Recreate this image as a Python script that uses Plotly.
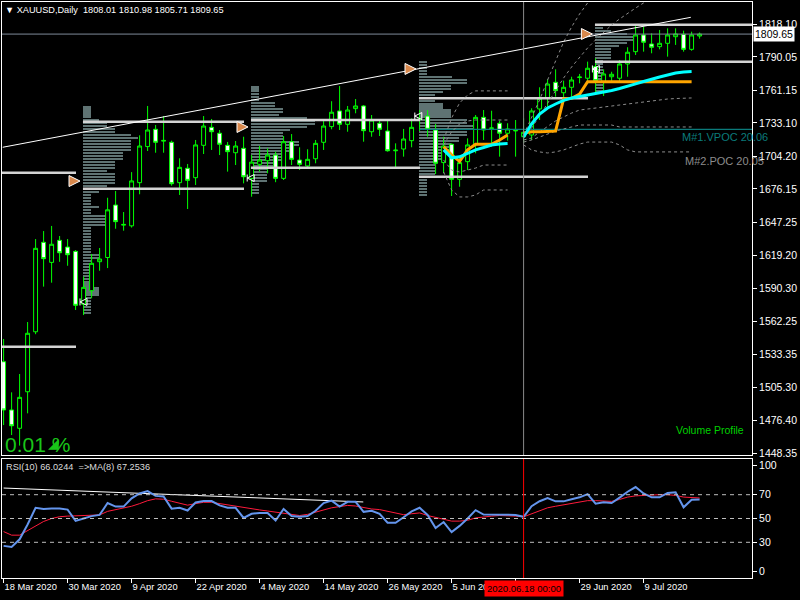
import plotly.graph_objects as go
import pandas as pd

# ---------------- data ----------------
dates = [d for d in pd.bdate_range("2020-03-18", "2020-07-20") if d.strftime("%Y-%m-%d") != "2020-04-10"]
bar_idx = list(range(len(dates)))

opens = [1527.3, 1485.7, 1469.9, 1501.4, 1553.1, 1630.2, 1612.9, 1631.9, 1626.1, 1622.4,
         1576.8, 1588.5, 1613.5, 1617.1, 1662.3, 1645.0, 1644.4, 1681.6, 1712.7, 1727.6,
         1717.4, 1716.4, 1681.6, 1694.0, 1685.9, 1713.8, 1729.3, 1724.2, 1713.8, 1707.4,
         1711.2, 1685.3, 1697.4, 1700.5, 1705.4, 1685.3, 1716.9, 1701.1, 1696.0, 1702.2,
         1716.4, 1729.9, 1743.4, 1731.9, 1745.4, 1747.7, 1725.5, 1732.8, 1726.1, 1709.1,
         1710.6, 1717.8, 1736.0, 1739.0, 1727.0, 1698.9, 1714.7, 1684.5, 1699.7, 1714.1,
         1737.9, 1728.3, 1732.8, 1724.2, 1726.2, 1721.2, 1722.7, 1745.1, 1754.3, 1768.1,
         1759.1, 1763.8, 1772.2, 1771.6, 1781.6, 1768.6, 1772.9, 1771.6, 1783.9, 1794.5,
         1808.9, 1801.1, 1798.8, 1801.7, 1807.4, 1809.4, 1796.5, 1808.01]
highs = [1546.9, 1500.9, 1516.7, 1561.5, 1633.0, 1639.9, 1644.3, 1635.6, 1633.0, 1623.5,
         1600.6, 1620.1, 1625.3, 1668.6, 1674.4, 1656.3, 1690.7, 1722.4, 1747.7, 1731.3,
         1739.0, 1717.8, 1702.6, 1697.7, 1718.4, 1739.0, 1736.5, 1727.0, 1716.7, 1717.5,
         1721.2, 1705.5, 1713.2, 1711.2, 1708.3, 1721.8, 1723.5, 1712.1, 1710.4, 1718.4,
         1736.2, 1751.8, 1764.9, 1747.7, 1753.7, 1748.5, 1739.9, 1735.6, 1735.6, 1715.5,
         1727.9, 1737.0, 1744.2, 1744.2, 1732.2, 1721.2, 1715.5, 1704.0, 1719.8, 1739.9,
         1744.2, 1743.6, 1735.0, 1732.8, 1735.6, 1737.0, 1745.7, 1763.8, 1770.7, 1779.3,
         1769.5, 1772.9, 1775.3, 1785.9, 1788.8, 1779.3, 1777.2, 1787.3, 1798.3, 1817.5,
         1816.0, 1810.3, 1813.2, 1814.6, 1814.6, 1812.6, 1811.7, 1810.98]
lows = [1472.7, 1464.1, 1455.0, 1482.8, 1551.0, 1592.0, 1595.4, 1613.4, 1610.0, 1571.9,
        1567.5, 1581.9, 1605.7, 1608.0, 1641.9, 1640.2, 1642.9, 1671.6, 1708.9, 1707.4,
        1707.4, 1679.0, 1671.0, 1658.9, 1679.6, 1706.3, 1709.8, 1705.4, 1691.1, 1696.8,
        1681.0, 1669.5, 1691.1, 1689.7, 1682.0, 1683.9, 1696.8, 1692.5, 1694.0, 1698.3,
        1709.8, 1727.6, 1727.0, 1725.5, 1741.4, 1716.9, 1721.2, 1721.8, 1708.3, 1694.0,
        1704.0, 1712.1, 1726.0, 1721.2, 1689.0, 1689.7, 1670.1, 1678.1, 1692.5, 1706.9,
        1718.4, 1712.6, 1704.0, 1717.8, 1704.0, 1715.8, 1718.4, 1735.6, 1747.1, 1755.7,
        1752.8, 1755.7, 1767.2, 1766.6, 1758.6, 1756.3, 1768.6, 1768.6, 1772.9, 1791.6,
        1794.5, 1793.1, 1796.5, 1790.2, 1800.3, 1794.5, 1795.3, 1805.71]
closes = [1485.7, 1472.1, 1496.6, 1551.8, 1625.0, 1616.1, 1628.5, 1621.2, 1619.5, 1575.9,
          1591.4, 1612.1, 1615.8, 1658.2, 1648.0, 1645.6, 1683.1, 1713.2, 1727.0, 1716.4,
          1718.0, 1680.7, 1694.8, 1683.6, 1714.1, 1730.4, 1725.5, 1714.7, 1708.3, 1713.2,
          1686.7, 1699.3, 1701.1, 1705.4, 1685.3, 1716.9, 1701.7, 1697.4, 1701.7, 1715.5,
          1730.4, 1742.3, 1731.9, 1744.2, 1747.7, 1726.4, 1735.6, 1727.6, 1709.1, 1709.6,
          1719.2, 1729.3, 1736.6, 1727.6, 1698.3, 1713.2, 1684.5, 1698.9, 1714.1, 1737.9,
          1727.0, 1728.7, 1724.2, 1727.9, 1726.6, 1725.0, 1743.4, 1754.3, 1766.6, 1760.9,
          1763.8, 1770.1, 1772.6, 1780.2, 1769.5, 1775.3, 1775.0, 1783.9, 1794.0, 1808.9,
          1802.6, 1798.3, 1801.7, 1808.9, 1809.7, 1796.5, 1808.9, 1809.65]

rsi = [27, 26, 32.5, 45, 59, 58, 58.5, 58.5, 57.5, 48,
       50, 52, 53, 63, 60, 60, 67, 71, 73, 69,
       68.5, 58.3, 59, 56.7, 63.5, 64.7, 64.7, 61, 59, 59,
       50.5, 54, 54.7, 54.7, 48.3, 58, 52, 51.5, 52, 56.5,
       63, 65, 60, 64, 64, 55.6, 56.5, 54, 46.5, 46.4,
       51, 56, 59, 53, 42, 47, 38.6, 43.8, 50, 57,
       53.3, 53.3, 53, 53.5, 53, 51.4, 60.3, 64.5, 67.2, 64.4,
       64.4, 66.2, 67.8, 70.5, 62.5, 63.6, 63, 67.5, 72.5, 76.4,
       71, 67.8, 67.8, 71.5, 72, 59.4, 65.8, 66.02]
rsi_ma = [39, 36, 36, 40, 43.5, 47.5, 50, 51.5, 52, 52.3,
          52.5, 52.5, 53, 56, 57.5, 58.5, 60.3, 62.5, 65, 66.5,
          66.2, 64.5, 63, 61.2, 62.5, 63.6, 63.6, 62.5, 61, 60.3,
          59.2, 58, 57.2, 56.3, 55.5, 54.5, 53.5, 52.5, 53.5, 55.5,
          57.5, 59, 60, 61, 60.5, 59, 58, 57.5, 56, 54.5,
          53.2, 54, 54.7, 52.5, 51, 49.5, 47.8, 47.8, 48.5, 50.5,
          51.4, 52, 52.5, 52.5, 52, 51.4, 54, 56.5, 59, 60.3,
          61.5, 62.5, 63.5, 65, 65, 64.8, 64.4, 66, 68, 69,
          69.5, 69.8, 70, 70, 69.4, 68, 67.5, 67.25]
rsi_levels = [70, 50, 30]
rsi_trend_idx = [0, 44.96]
rsi_trend_val = [75.6, 63.9]

# anchored lines (cyan / orange), two segments each
cyan_a_idx = [55, 56, 57, 58, 59, 60, 61, 62, 63]
cyan_a_val = [1709.9, 1703.0, 1703.9, 1707.2, 1709.9, 1711.9, 1714.1, 1714.9, 1715.3]
cyan_b_idx = list(range(65, 87))
cyan_b_val = [1721.0, 1732.2, 1740.8, 1746.0, 1749.4, 1752.5, 1754.6, 1755.9, 1756.8, 1758.0,
              1759.3, 1761.1, 1762.8, 1764.5, 1766.7, 1768.8, 1771.0, 1772.7, 1774.4, 1776.1,
              1777.0, 1777.3]
orange_a_idx = [55, 56, 57, 58, 59, 60, 61, 62, 63]
orange_a_val = [1712.5, 1705.6, 1700.0, 1709.9, 1714.7, 1714.7, 1714.7, 1718.4, 1722.7]
orange_b_idx = list(range(65, 87))
orange_b_val = [1724.4, 1725.5, 1725.5, 1725.5, 1726.0, 1753.7, 1754.3, 1758.0, 1768.6, 1768.6,
                1768.6, 1768.6, 1768.6, 1768.6, 1768.6, 1768.6, 1768.6, 1768.6, 1768.6, 1768.6,
                1768.6, 1768.6]

# dashed deviation bands (approximate)
band_a_idx = [55, 56, 57, 58, 59, 60, 61, 62, 63]
band_a_up2 = [1718.4, 1737.3, 1750.3, 1757.2, 1760.7, 1760.7, 1760.7, 1760.7, 1760.7]
band_a_up1 = [1714.1, 1725.3, 1732.2, 1734.8, 1735.6, 1735.6, 1735.6, 1735.6, 1735.6]
band_a_lo1 = [1701.1, 1692.5, 1690.8, 1692.5, 1694.2, 1696.8, 1696.8, 1696.8, 1696.8]
band_a_lo2 = [1690.8, 1675.3, 1669.3, 1669.3, 1671.0, 1675.3, 1675.3, 1675.3, 1675.3]
band_b_idx = list(range(65, 87))
band_b_up2 = [1722.7, 1737.3, 1752.9, 1770.1, 1787.3, 1802.8, 1815.8, 1827.0, 1836.5, 1845.0,
              None, None, None, None, None, None, None, None, None, None, None, None]
band_b_up1 = [1720.1, 1728.7, 1739.1, 1750.3, 1761.5, 1771.8, 1781.3, 1789.9, 1797.7, 1804.6,
              1811.5, 1817.5, 1822.7, 1827.8, 1832.1, 1836.5, 1841.0, None, None, None, None, None]
band_b_lo1 = [1718.4, 1720.1, 1725.3, 1730.4, 1734.8, 1738.2, 1741.6, 1744.2, 1745.1, 1745.9,
              1746.8, 1747.7, 1748.5, 1749.4, 1750.3, 1751.1, 1752.0, 1752.8, 1753.7, 1754.1,
              1754.6, 1754.6]
band_b_lo2 = [1716.6, 1718.4, 1720.9, 1723.5, 1726.1, 1727.9, 1729.6, 1731.3, 1731.3, 1731.3,
              1731.3, 1731.3, 1729.6, 1729.6, 1729.6, 1729.6, 1729.6, 1729.6, 1729.6, 1729.6,
              1729.6, 1729.6]
band_b_lo3 = [1714.1, 1709.8, 1708.1, 1707.2, 1708.1, 1709.8, 1712.3, 1714.9, 1716.6, 1716.6,
              1716.6, 1716.6, 1714.1, 1709.8, 1708.1, 1708.1, 1708.1, 1708.1, 1708.1, 1708.1,
              1708.1, 1708.1]

# trend line on price chart
trend_idx = [-0.11, 85.9]
trend_val = [1712.1, 1824.1]

# monthly volume profiles: start bar, segment (hi, lo, volume in bars)
prof_start = [9.92, 30.92, 51.92, 73.92]
prof_hi = [
    [1747.7, 1738.5, 1734.1, 1729.8, 1725.5, 1722.7, 1718.4, 1708.3, 1701.1, 1694.0, 1691.1, 1681.1,
     1676.8, 1672.4, 1662.4, 1659.5, 1653.7, 1643.6, 1620.7, 1614.9, 1591.9, 1583.3],
    [1764.9, 1752.8, 1747.1, 1742.8, 1738.5, 1736.2, 1732.2, 1729.8, 1727.0, 1718.4, 1712.6, 1706.9,
     1701.1, 1695.4, 1681.1],
    [1786.7, 1774.4, 1770.9, 1767.2, 1761.5, 1757.2, 1750.0, 1744.2, 1738.5, 1732.8, 1727.0, 1721.2,
     1715.5, 1709.8, 1701.1, 1686.7],
    [1819.0, 1814.7, 1811.7, 1808.9, 1804.6, 1801.7, 1798.8, 1787.3],
]
prof_lo = [
    [1738.5, 1734.1, 1729.8, 1725.5, 1722.7, 1718.4, 1708.3, 1701.1, 1694.0, 1691.1, 1681.1, 1676.8,
     1672.4, 1662.4, 1659.5, 1653.7, 1643.6, 1620.7, 1614.9, 1591.9, 1583.3, 1569.0],
    [1752.8, 1747.1, 1742.8, 1738.5, 1736.2, 1732.2, 1729.8, 1727.0, 1718.4, 1712.6, 1706.9, 1701.1,
     1695.4, 1681.1, 1671.0],
    [1774.4, 1770.9, 1767.2, 1761.5, 1757.2, 1750.0, 1744.2, 1738.5, 1732.8, 1727.0, 1721.2, 1715.5,
     1709.8, 1701.1, 1686.7, 1671.0],
    [1814.7, 1811.7, 1808.9, 1804.6, 1801.7, 1798.8, 1787.3, 1758.6],
]
prof_vol = [
    [0.96, 2.0, 2.96, 4.0, 6.0, 6.9, 6.0, 4.96, 4.0, 2.96, 4.0, 2.96, 2.0, 0.96, 2.0, 0.96, 2.96,
     0.96, 2.0, 0.96, 2.0, 0.96],
    [1.0, 3.0, 4.0, 3.5, 7.0, 8.0, 7.0, 4.9, 4.0, 6.0, 4.9, 4.0, 3.0, 2.0, 1.0],
    [1.0, 4.1, 6.0, 4.0, 3.0, 2.0, 3.0, 4.0, 6.0, 6.75, 6.0, 5.0, 4.0, 3.0, 2.0, 1.0],
    [1.0, 2.0, 4.0, 4.75, 4.0, 3.0, 2.0, 1.0],
]
# value-area lines of each profile (start bar, end bar, price)
va_x0 = [-1, -1, 9.92, 9.92, 30.92, 30.92, 51.92, 51.92, 73.92, 73.92]
va_x1 = [9.05, 9.05, 30.05, 30.05, 52.05, 52.05, 73.05, 73.05, 95, 95]
va_price = [1690.2, 1540.2, 1734.2, 1676.4, 1735.6, 1694.5, 1754.3, 1686.8, 1817.8, 1785.9]
vpoc_x = [52, 95]
vpoc_price = 1727.6
arrow_idx = [9.55, 30.55, 51.55, 73.6]
arrow_price = [1683.0, 1729.6, 1779.6, 1809.7]
hook_idx = [9.55, 30.45, 51.4, 73.6]
hook_price = [1578.8, 1685.6, 1739.0, 1779.6]

price_ticks = [1818.10, 1790.05, 1761.15, 1733.10, 1704.20, 1676.15, 1647.25, 1619.20,
               1590.30, 1562.25, 1533.35, 1505.30, 1476.40, 1448.35]
# RSI scale labels (MT4 pulls the 100 / 0 labels inside the window)
rsi_tick_pos = [94.4, 70, 50, 30, 5.6]
rsi_tick_text = ["100", "70", "50", "30", "0"]
date_tick_idx = [0, 8, 16, 24, 32, 40, 48, 56, 64, 72, 80]
cursor_idx = 65
last_price = 1809.65

# ---------------- figure ----------------
W, H = 800, 600
ML, MR, MT, MB = 2, 48, 2, 22
PW, PH = W - ML - MR, H - MT - MB


def px(x):
    return (x - ML) / PW


def py(y):
    return (H - MB - y) / PH


GREEN = "#00ff00"
FONT = "Liberation Sans"

fig = go.Figure()

# volume profiles (striped horizontal bars)
step, thick = 2.6, 1.8
for start, his, los, vols in zip(prof_start, prof_hi, prof_lo, prof_vol):
    ys, xs = [], []
    p = his[0] - step / 2
    while p > los[-1]:
        for hi, lo, v in zip(his, los, vols):
            if lo <= p <= hi:
                ys.append(p)
                xs.append(v)
                break
        p -= step
    fig.add_trace(go.Bar(y=ys, x=xs, base=start, orientation="h", width=thick,
                         marker=dict(color="#5f7373", line=dict(width=0)),
                         xaxis="x", yaxis="y", showlegend=False, hoverinfo="skip"))

# value-area lines
vx, vy = [], []
for a, b, p in zip(va_x0, va_x1, va_price):
    vx += [a, b, None]
    vy += [p, p, None]
fig.add_trace(go.Scatter(x=vx, y=vy, mode="lines", line=dict(color="#d4d4d4", width=2.5),
                         xaxis="x", yaxis="y", showlegend=False, hoverinfo="skip"))
# VPOC line
fig.add_trace(go.Scatter(x=vpoc_x, y=[vpoc_price, vpoc_price], mode="lines",
                         line=dict(color="#0b7b7b", width=1.3), xaxis="x", yaxis="y",
                         showlegend=False, hoverinfo="skip"))
# bid line
fig.add_trace(go.Scatter(x=[-1, 95], y=[last_price, last_price], mode="lines",
                         line=dict(color="#7f8a99", width=1), xaxis="x", yaxis="y",
                         showlegend=False, hoverinfo="skip"))

# dashed bands
for xs_, ys_ in [(band_a_idx, band_a_up2), (band_a_idx, band_a_up1), (band_a_idx, band_a_lo1),
                 (band_a_idx, band_a_lo2), (band_b_idx, band_b_up2), (band_b_idx, band_b_up1),
                 (band_b_idx, band_b_lo1), (band_b_idx, band_b_lo2), (band_b_idx, band_b_lo3)]:
    fig.add_trace(go.Scatter(x=xs_, y=ys_, mode="lines", line=dict(color="#8c8c8c", width=1, dash="3px,3px"),
                             xaxis="x", yaxis="y", showlegend=False, hoverinfo="skip", connectgaps=False))

# cursor vertical line (main)
fig.add_shape(type="line", xref="x", yref="y domain", x0=cursor_idx, x1=cursor_idx, y0=0, y1=1,
              line=dict(color="#8a8a8a", width=1))

# candles
fig.add_trace(go.Candlestick(
    x=bar_idx, open=opens, high=highs, low=lows, close=closes,
    increasing=dict(line=dict(color=GREEN, width=1), fillcolor="black"),
    decreasing=dict(line=dict(color=GREEN, width=1), fillcolor="white"),
    whiskerwidth=0, xaxis="x", yaxis="y", showlegend=False, hoverinfo="skip"))

# cyan / orange lines
for xs_, ys_ in [(orange_a_idx, orange_a_val), (orange_b_idx, orange_b_val)]:
    fig.add_trace(go.Scatter(x=xs_, y=ys_, mode="lines", line=dict(color="#ffa500", width=3),
                             xaxis="x", yaxis="y", showlegend=False, hoverinfo="skip"))
for xs_, ys_ in [(cyan_a_idx, cyan_a_val), (cyan_b_idx, cyan_b_val)]:
    fig.add_trace(go.Scatter(x=xs_, y=ys_, mode="lines", line=dict(color="#00ffff", width=3),
                             xaxis="x", yaxis="y", showlegend=False, hoverinfo="skip"))

# trend line
fig.add_trace(go.Scatter(x=trend_idx, y=trend_val, mode="lines", line=dict(color="white", width=1),
                         xaxis="x", yaxis="y", showlegend=False, hoverinfo="skip"))
# profile start arrows and hooks
fig.add_trace(go.Scatter(x=arrow_idx, y=arrow_price, mode="markers",
                         marker=dict(symbol="arrow-right", size=11, color="#d8884c",
                                     line=dict(color="white", width=1)),
                         xaxis="x", yaxis="y", showlegend=False, hoverinfo="skip"))
fig.add_trace(go.Scatter(x=hook_idx, y=hook_price, mode="markers",
                         marker=dict(symbol="arrow-bar-left-open", size=7, color="white",
                                     line=dict(color="white", width=1)),
                         xaxis="x", yaxis="y", showlegend=False, hoverinfo="skip"))

# RSI panel
for lv in rsi_levels:
    fig.add_shape(type="line", xref="x2 domain", yref="y2", x0=0, x1=1, y0=lv, y1=lv,
                  line=dict(color="#bdbdbd", width=1, dash="4px,4px"))
fig.add_shape(type="line", xref="x2", yref="y2 domain", x0=cursor_idx, x1=cursor_idx, y0=0, y1=1,
              line=dict(color="#ff0000", width=1))
fig.add_trace(go.Scatter(x=rsi_trend_idx, y=rsi_trend_val, mode="lines",
                         line=dict(color="white", width=1), xaxis="x2", yaxis="y2",
                         showlegend=False, hoverinfo="skip"))
fig.add_trace(go.Scatter(x=bar_idx, y=rsi_ma, mode="lines", line=dict(color="#ff1a3c", width=1),
                         xaxis="x2", yaxis="y2", showlegend=False, hoverinfo="skip"))
fig.add_trace(go.Scatter(x=bar_idx, y=rsi, mode="lines", line=dict(color="#6495ed", width=2),
                         xaxis="x2", yaxis="y2", showlegend=False, hoverinfo="skip"))

xr = [-0.2, 93.55]
date_text = [dates[i].strftime("%-d %b %Y") if i != cursor_idx - 1 else "" for i in date_tick_idx]

axis_common = dict(showgrid=False, zeroline=False, showline=True, linecolor="white", linewidth=1,
                   mirror=True, color="white", automargin=False)
fig.update_layout(
    width=W, height=H, margin=dict(l=ML, r=MR, t=MT, b=MB, autoexpand=False),
    paper_bgcolor="black", plot_bgcolor="black", barmode="overlay", bargap=0,
    font=dict(family=FONT, size=10, color="white"),
    xaxis=dict(domain=[0, 1], range=xr, anchor="y", showticklabels=False, ticks="",
               rangeslider=dict(visible=False), **axis_common),
    yaxis=dict(domain=[py(455), 1], range=[1446.9, 1837.3], side="right", anchor="x",
               tickvals=price_ticks, ticktext=[f"{v:.2f}" for v in price_ticks],
               ticks="outside", ticklen=4, tickcolor="white", tickfont=dict(size=10.5, color="white"),
               **axis_common),
    xaxis2=dict(domain=[0, 1], range=xr, anchor="y2", tickvals=date_tick_idx, ticktext=date_text,
                ticks="outside", ticklen=4, tickcolor="white", ticklabelposition="outside right",
                tickangle=0, tickfont=dict(size=9.3, color="white"), **axis_common),
    yaxis2=dict(domain=[0, py(459)], range=[0, 100], side="right", anchor="x2",
                tickvals=rsi_tick_pos, ticktext=rsi_tick_text, ticks="outside", ticklen=4,
                tickcolor="white", tickfont=dict(size=10.5, color="white"), **axis_common),
)

ann = [
    dict(x=px(4), y=py(10), text="▼ XAUUSD,Daily  1808.01 1810.98 1805.71 1809.65",
         font=dict(size=9.2, color="white")),
    dict(x=px(5), y=py(467), text="RSI(10) 66.0244  =>MA(8) 67.2536", font=dict(size=9.2, color="#dcdcdc")),
    dict(x=px(4), y=py(444), text="0.01 %", font=dict(size=21, color="#19c519")),
    dict(x=px(47), y=py(443), text="◢", font=dict(size=14, color="#19c519", family="DejaVu Sans")),
    dict(x=px(675), y=py(430), text="Volume Profile", font=dict(size=10.5, color="#00d200")),
    dict(x=px(681), y=py(137), text="M#1.VPOC 20.06", font=dict(size=11, color="#0b7b7b")),
    dict(x=px(684), y=py(161), text="M#2.POC 20.05", font=dict(size=11, color="#8c8c8c")),
]
for a in ann:
    fig.add_annotation(xref="paper", yref="paper", xanchor="left", yanchor="middle",
                       showarrow=False, borderpad=0, **a)

fig.add_annotation(xref="paper", yref="y", x=1, y=last_price, xanchor="left", yanchor="middle",
                   xshift=1, text=f"{last_price:.2f}", showarrow=False, bgcolor="white",
                   font=dict(size=10.5, color="black"), borderpad=1)
fig.add_annotation(xref="x2", yref="paper", x=cursor_idx, y=py(588.5), xanchor="center",
                   yanchor="middle", text=dates[cursor_idx].strftime("%Y.%m.%d 00:00"),
                   showarrow=False, bgcolor="#ff0000", font=dict(size=9.5, color="black"), borderpad=2)

fig.write_html("out.html", config={"displayModeBar": False},
               post_script="document.body.style.margin='0';document.body.style.overflow='hidden';")
